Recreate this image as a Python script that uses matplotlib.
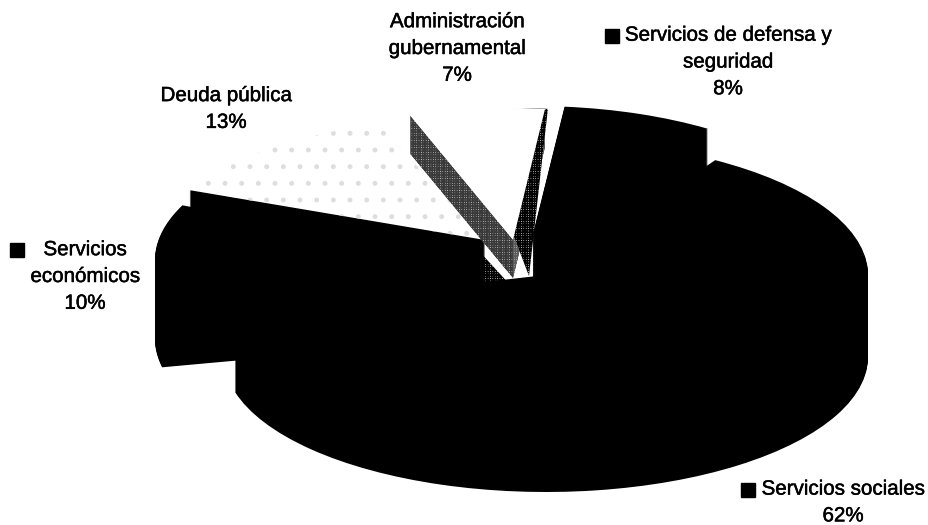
import matplotlib
matplotlib.use("Agg")
import matplotlib.pyplot as plt
import matplotlib.patheffects as pe
from matplotlib.transforms import Affine2D

categories = ["Servicios sociales", "Servicios económicos", "Deuda pública",
              "Administración gubernamental", "Servicios de defensa y seguridad"]
values = [62, 10, 13, 7, 8]
labels = ["Servicios sociales\n62%", "Servicios\neconómicos\n10%", "Deuda pública\n13%",
          "Administración\ngubernamental\n7%", "Servicios de defensa y\nseguridad\n8%"]
label_pos = [(843, 502.5), (85, 276.5), (226, 109), (457, 48.5), (728, 62)]
key_pos = [(748.5, 489.5), (17.5, 249.5), None, None, (612.5, 36)]

START = 55.3
# per-slice placement in pixels: vertex x, vertex y, x radius, y radius, wall depth, turn
place = [(546, 275, 322, 135, 82, 3.0),
         (475, 260, 320, 135, 79, 0),
         (485, 240, 323, 123, 72, 0),
         (513, 240, 312, 132, 38, 0),
         (533, 234, 307, 128, 72, 0)]
draw_order = [2, 3, 4, 1, 0]
face = ["black", "black", "white", "white", "black"]
HATCH = "+++++++"

plt.rcParams["font.family"] = ["Liberation Sans", "DejaVu Sans"]
plt.rcParams["hatch.linewidth"] = 1.1
fig = plt.figure(figsize=(9.29, 5.25), dpi=100)
ax = fig.add_axes([0, 0, 1, 1])


def layer(idx, vx, vy, sx, sy, z, fc, hatch=None, hc=None, turn=0):
    wedges, _ = ax.pie(values, startangle=START, counterclock=False, radius=1)
    for i, w in enumerate(wedges):
        if i != idx:
            w.remove()
            continue
        w.set_facecolor(fc)
        w.set_linewidth(0)
        if hatch:
            w.set_hatch(hatch)
            w.set_edgecolor(hc)
        else:
            w.set_edgecolor(fc)
        w.set_zorder(z)
        w.set_transform(Affine2D().rotate_deg(turn).scale(sx, -sy).translate(vx, vy) + ax.transData)


z = 1
for i in draw_order:
    vx, vy, sx, sy, d, turn = place[i]
    hatched = i == 3
    if i == 2:
        # hatched wall showing below the cut, next to the centre of the pie
        layer(i, vx + 28, vy + 48, sx, sy, z, "white", HATCH, "black")
        z += 1
    for k in range(d, 0, -1):
        layer(i, vx, vy + k, sx, sy, z, "white" if hatched else "black",
              HATCH if hatched else None, "black" if hatched else None, turn)
        z += 1
    if hatched:
        # thin cut wall along the right edge of the slice
        layer(i, vx + 16, vy + 36, 184, 168, z, "white", HATCH, "black")
        z += 1
    if i == 2:
        layer(i, vx, vy, sx, sy, z, "white", ".", "#dedede")
    else:
        layer(i, vx, vy, sx, sy, z, face[i], turn=turn)
    z += 1

ax.set_aspect("auto")
ax.axis("off")

for t, (x, y), key in zip(labels, label_pos, key_pos):
    ax.text(x, y, t, ha="center", va="center", fontsize=14.8, color="black",
            linespacing=1.52, zorder=z + 1,
            path_effects=[pe.withStroke(linewidth=0.35, foreground="black")])
    if key is not None:
        ax.plot([key[0]], [key[1]], marker="s", ms=9.5, color="black", ls="none", zorder=z + 1)

ax.set_xlim(0, 929)
ax.set_ylim(525, 0)
fig.savefig("out.png", dpi=100)
